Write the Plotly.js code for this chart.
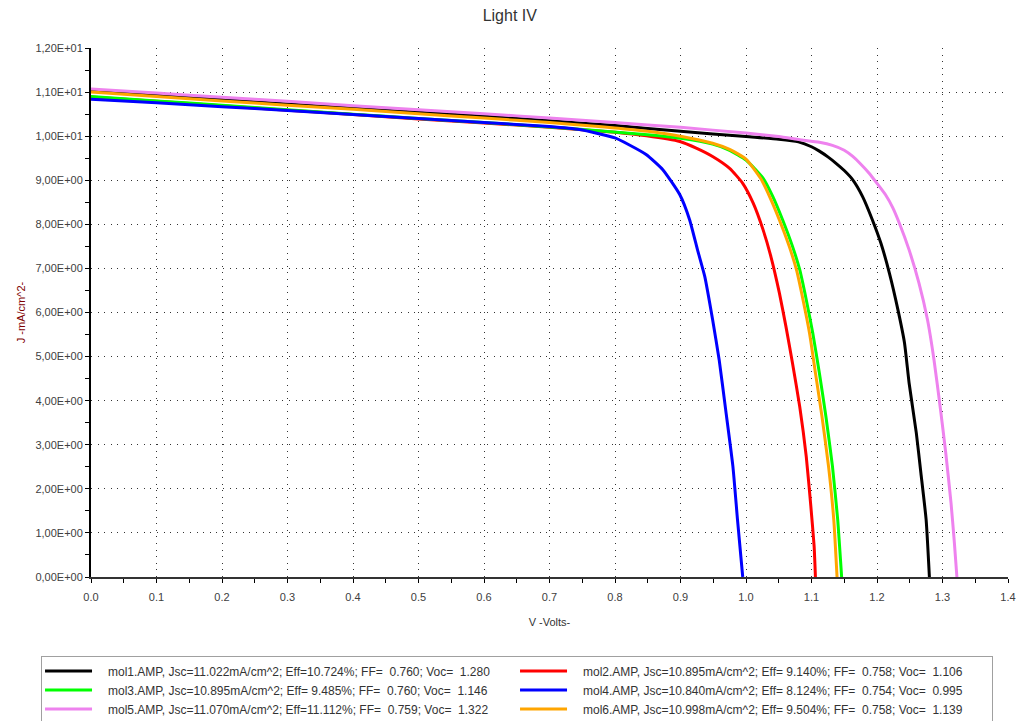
<!DOCTYPE html>
<html>
<head>
<meta charset="utf-8">
<script src="https://cdn.plot.ly/plotly-3.0.1.min.js"></script>
<style>html,body{margin:0;padding:0;background:#fff;}#chart{width:1034px;height:721px;}</style>
</head>
<body>
<div id="chart"></div>
<script>
// ---- data ----
const seriesNames = [
  "mol1.AMP, Jsc=11.022mA/cm^2; Eff=10.724%; FF=\u00a0\u00a00.760; Voc=\u00a0\u00a01.280",
  "mol2.AMP, Jsc=10.895mA/cm^2; Eff=\u00a09.140%; FF=\u00a0\u00a00.758; Voc=\u00a0\u00a01.106",
  "mol3.AMP, Jsc=10.895mA/cm^2; Eff=\u00a09.485%; FF=\u00a0\u00a00.760; Voc=\u00a0\u00a01.146",
  "mol4.AMP, Jsc=10.840mA/cm^2; Eff=\u00a08.124%; FF=\u00a0\u00a00.754; Voc=\u00a0\u00a00.995",
  "mol5.AMP, Jsc=11.070mA/cm^2; Eff=11.112%; FF=\u00a0\u00a00.759; Voc=\u00a0\u00a01.322",
  "mol6.AMP, Jsc=10.998mA/cm^2; Eff=\u00a09.504%; FF=\u00a0\u00a00.758; Voc=\u00a0\u00a01.139"
];
const seriesColors = ["#000000", "#ff0000", "#00ff00", "#0000ff", "#ee82ee", "#ffa500"];

const v1 = [0, 0.1, 0.2, 0.3, 0.4, 0.5, 0.6, 0.7, 0.8, 0.9, 1.0, 1.05, 1.08, 1.1, 1.112, 1.125, 1.137, 1.15, 1.163, 1.178, 1.193, 1.206, 1.219, 1.232, 1.242, 1.249, 1.26, 1.267, 1.275, 1.28];
const j1 = [11.02, 10.93, 10.83, 10.73, 10.64, 10.54, 10.45, 10.35, 10.24, 10.11, 9.99, 9.93, 9.87, 9.76, 9.66, 9.53, 9.39, 9.22, 9.01, 8.63, 8.10, 7.57, 6.89, 6.06, 5.31, 4.40, 3.27, 2.36, 1.30, 0];

const v2 = [0, 0.1, 0.2, 0.3, 0.4, 0.5, 0.6, 0.7, 0.8, 0.848, 0.899, 0.924, 0.949, 0.975, 0.995, 1.011, 1.026, 1.038, 1.051, 1.061, 1.071, 1.082, 1.092, 1.099, 1.104, 1.106];
const j2 = [10.89, 10.79, 10.69, 10.59, 10.49, 10.39, 10.30, 10.20, 10.09, 10.01, 9.88, 9.73, 9.54, 9.27, 8.93, 8.48, 7.88, 7.27, 6.44, 5.68, 4.85, 3.87, 2.73, 1.60, 0.70, 0];

const v3 = [0, 0.1, 0.2, 0.3, 0.4, 0.5, 0.6, 0.7, 0.784, 0.85, 0.9, 0.949, 0.975, 1.0, 1.026, 1.041, 1.056, 1.071, 1.082, 1.092, 1.102, 1.112, 1.122, 1.132, 1.14, 1.146];
const j3 = [10.90, 10.80, 10.70, 10.60, 10.50, 10.40, 10.31, 10.21, 10.11, 10.03, 9.95, 9.82, 9.68, 9.46, 9.05, 8.63, 8.10, 7.50, 6.97, 6.29, 5.53, 4.63, 3.64, 2.51, 1.30, 0];

const v4 = [0, 0.1, 0.2, 0.3, 0.4, 0.5, 0.6, 0.7, 0.746, 0.8, 0.822, 0.848, 0.873, 0.899, 0.914, 0.926, 0.937, 0.949, 0.959, 0.969, 0.98, 0.987, 0.995];
const j4 = [10.84, 10.76, 10.67, 10.58, 10.49, 10.40, 10.31, 10.22, 10.15, 9.96, 9.80, 9.58, 9.24, 8.67, 8.10, 7.42, 6.82, 5.84, 4.93, 3.79, 2.51, 1.30, 0];

const v5 = [0, 0.1, 0.2, 0.3, 0.4, 0.5, 0.6, 0.7, 0.8, 0.9, 1.0, 1.05, 1.082, 1.112, 1.132, 1.15, 1.163, 1.175, 1.188, 1.2, 1.213, 1.224, 1.234, 1.249, 1.264, 1.277, 1.287, 1.297, 1.305, 1.313, 1.318, 1.322];
const j5 = [11.07, 10.98, 10.88, 10.79, 10.69, 10.60, 10.51, 10.41, 10.31, 10.20, 10.07, 9.99, 9.92, 9.86, 9.79, 9.68, 9.54, 9.37, 9.16, 8.93, 8.67, 8.38, 8.03, 7.42, 6.67, 5.84, 4.93, 3.79, 2.81, 1.68, 0.80, 0];

const v6 = [0, 0.1, 0.2, 0.3, 0.4, 0.5, 0.6, 0.7, 0.784, 0.85, 0.9, 0.949, 0.975, 1.0, 1.022, 1.036, 1.051, 1.066, 1.077, 1.087, 1.097, 1.106, 1.116, 1.126, 1.134, 1.139];
const j6 = [11.00, 10.90, 10.80, 10.70, 10.61, 10.51, 10.41, 10.31, 10.21, 10.11, 10.00, 9.84, 9.70, 9.48, 9.05, 8.63, 8.10, 7.50, 6.97, 6.29, 5.53, 4.63, 3.64, 2.51, 1.30, 0];

const yTickVals = [0, 1, 2, 3, 4, 5, 6, 7, 8, 9, 10, 11, 12];
const yTickText = ["0,00E+00", "1,00E+00", "2,00E+00", "3,00E+00", "4,00E+00", "5,00E+00", "6,00E+00", "7,00E+00", "8,00E+00", "9,00E+00", "1,00E+01", "1,10E+01", "1,20E+01"];
const xTickVals = [0, 0.1, 0.2, 0.3, 0.4, 0.5, 0.6, 0.7, 0.8, 0.9, 1.0, 1.1, 1.2, 1.3, 1.4];
const xTickText = ["0.0", "0.1", "0.2", "0.3", "0.4", "0.5", "0.6", "0.7", "0.8", "0.9", "1.0", "1.1", "1.2", "1.3", "1.4"];

// ---- traces ----
const vs = [v1, v2, v3, v4, v5, v6];
const js = [j1, j2, j3, j4, j5, j6];
const traces = vs.map((v, i) => ({
  x: v, y: js[i], type: "scatter", mode: "lines", name: seriesNames[i],
  line: {color: seriesColors[i], width: 3, shape: "spline", smoothing: 0.5}
}));

const font = "Liberation Sans, Arial, sans-serif";
const layout = {
  width: 1034, height: 721,
  margin: {l: 91, r: 26, t: 48, b: 144, autoexpand: false},
  paper_bgcolor: "#ffffff", plot_bgcolor: "#ffffff",
  font: {family: font, size: 11, color: "#404040"},
  title: {text: "Light IV", font: {family: font, size: 16, color: "#333333"},
          xref: "container", x: 0.493, xanchor: "center", yref: "container", y: 0.979, yanchor: "middle"},
  showlegend: true,
  legend: {
    orientation: "h", x: -0.0545, xanchor: "left", y: -0.1484, yanchor: "top",
    bgcolor: "#ffffff", bordercolor: "#a0a0a0", borderwidth: 1,
    font: {family: font, size: 12, color: "#333333"},
    entrywidth: 404, entrywidthmode: "pixels", itemwidth: 56, traceorder: "normal", tracegroupgap: 0
  },
  xaxis: {
    range: [0, 1.4], tickmode: "array", tickvals: xTickVals, ticktext: xTickText,
    ticks: "outside", ticklen: 4, tickwidth: 1, tickcolor: "#000",
    minor: {dtick: 0.05, tick0: 0, ticks: "outside", ticklen: 4, tickwidth: 1, tickcolor: "#000", showgrid: false},
    showline: true, linecolor: "#333", linewidth: 2, zeroline: false, mirror: false,
    showgrid: true, gridcolor: "#333", gridwidth: 1, griddash: "1px,5.6px",
    ticklabelstandoff: 5,
    tickfont: {family: font, size: 11, color: "#404040"},
    title: {text: "V -Volts-", font: {family: font, size: 11, color: "#333333"}, standoff: 16},
    automargin: false, fixedrange: true
  },
  yaxis: {
    range: [0, 12], tickmode: "array", tickvals: yTickVals, ticktext: yTickText,
    ticks: "outside", ticklen: 4, tickwidth: 1, tickcolor: "#000",
    minor: {dtick: 0.5, tick0: 0, ticks: "outside", ticklen: 4, tickwidth: 1, tickcolor: "#000", showgrid: false},
    showline: true, linecolor: "#000", linewidth: 2, zeroline: false, mirror: false,
    showgrid: true, gridcolor: "#333", gridwidth: 1, griddash: "1px,5.6px",
    tickfont: {family: font, size: 11, color: "#404040"},
    title: {text: "J -mA/cm^2-", font: {family: font, size: 11, color: "#800000"}, standoff: 8},
    automargin: false, fixedrange: true
  },
  xaxis2: {
    overlaying: "x", anchor: "y", side: "bottom", range: [0, 1.4], dtick: 0.05, tick0: 0,
    ticks: "inside", ticklen: 4, tickwidth: 1, tickcolor: "#000",
    showticklabels: false, showgrid: false, showline: false, zeroline: false, fixedrange: true
  },
  yaxis2: {
    overlaying: "y", anchor: "x", side: "left", range: [0, 12], dtick: 0.5, tick0: 0,
    ticks: "inside", ticklen: 4, tickwidth: 1, tickcolor: "#000",
    showticklabels: false, showgrid: false, showline: false, zeroline: false, fixedrange: true
  }
};

Plotly.newPlot("chart", traces, layout, {displayModeBar: false, staticPlot: true}).then(function () {
  // shorten the legend line samples to the reference length
  document.querySelectorAll("#chart .legend .legendlines path").forEach(function (p) {
    p.setAttribute("d", "M3,0h47");
  });
});
</script>
</body>
</html>
